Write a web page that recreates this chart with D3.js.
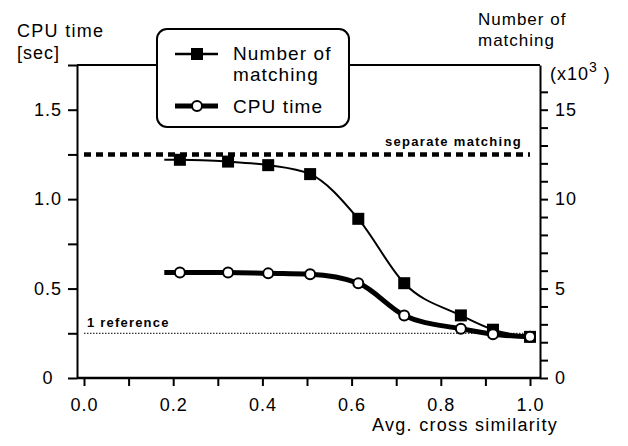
<!DOCTYPE html>
<html lang='en'>
<head>
  <meta charset='UTF-8'>
  <title>CPU time vs similarity</title>
  <script src='https://d3js.org/d3.v7.min.js'></script>
  <style>
    body { margin: 0; background: #fff; }
    svg { display: block; font-family: 'Liberation Sans', Arial, sans-serif; }
    .tick line, .domain { stroke: #000; stroke-width: 2; }
  </style>
</head>
<body>
  <svg width='628' height='446'></svg>

  <script>
    // values
    var similarity = [0.215, 0.323, 0.413, 0.507, 0.615, 0.718, 0.845, 0.917, 1.0];
    var matching = [12.2, 12.1, 11.9, 11.4, 8.9, 5.3, 3.5, 2.7, 2.3];   // x10^3
    var cpuTime = [0.59, 0.59, 0.585, 0.58, 0.53, 0.35, 0.275, 0.245, 0.23];
    var fitStart = 0.18;          // fitted curves begin a bit left of first point
    var separateMatching = 1.25;  // sec
    var oneReference = 0.25;      // sec
    var xTicks = d3.range(0, 11).map(d => d / 10);
    var xLabels = [0, 0.2, 0.4, 0.6, 0.8, 1.0];
    var leftTicks = d3.range(0, 8).map(d => d * 0.25);
    var leftLabels = {0: '0', 0.5: '0.5', 1: '1.0', 1.5: '1.5'};
    var rightTicks = d3.range(0, 17);
    var rightLabels = [0, 5, 10, 15];

    var svg = d3.select('svg');
    var x = d3.scaleLinear().domain([0, 1]).range([84, 530]);
    var yL = d3.scaleLinear().domain([0, 1.75]).range([378, 65]);
    var yR = d3.scaleLinear().domain([0, 17.5]).range([378, 65]);
    var left = 77, right = 540;

    // frame: top line
    svg.append('line')
      .attr('x1', left).attr('x2', right)
      .attr('y1', yL(1.75)).attr('y2', yL(1.75))
      .attr('stroke', '#000').attr('stroke-width', 2);

    // bottom axis
    var gx = svg.append('g')
      .attr('transform', 'translate(0,' + yL(0) + ')')
      .call(d3.axisBottom(x).tickValues(xTicks).tickSize(8).tickSizeOuter(0).tickPadding(12)
        .tickFormat(d => xLabels.some(v => Math.abs(v - d) < 1e-6) ? d3.format('.1f')(d) : ''));
    gx.select('.domain').remove();
    gx.append('line')
      .attr('x1', left).attr('x2', right)
      .attr('stroke', '#000').attr('stroke-width', 2.5);

    // left axis
    var gl = svg.append('g')
      .attr('transform', 'translate(' + left + ',0)')
      .call(d3.axisLeft(yL).tickValues(leftTicks).tickSize(9).tickSizeOuter(0)
        .tickFormat(d => leftLabels[d] || ''));
    gl.select('.domain').attr('stroke-width', 2.5);
    gl.selectAll('text').attr('x', -29).attr('text-anchor', 'middle');

    // right axis
    var gr = svg.append('g')
      .attr('transform', 'translate(' + right + ',0)')
      .call(d3.axisRight(yR).tickValues(rightTicks).tickSize(8).tickSizeOuter(0).tickPadding(7)
        .tickFormat(d => rightLabels.indexOf(d) >= 0 ? d : ''));
    gr.select('.domain').attr('stroke-width', 2.5);

    svg.selectAll('.tick text')
      .attr('fill', '#000')
      .style('font-size', '18px')
      .style('letter-spacing', '1px');

    // reference lines
    svg.append('line')
      .attr('x1', x(0)).attr('x2', x(1))
      .attr('y1', yL(separateMatching)).attr('y2', yL(separateMatching))
      .attr('stroke', '#000').attr('stroke-width', 4.5)
      .attr('stroke-dasharray', '7,5');
    svg.append('line')
      .attr('x1', x(0)).attr('x2', x(1))
      .attr('y1', yL(oneReference)).attr('y2', yL(oneReference))
      .attr('stroke', '#000').attr('stroke-width', 1)
      .attr('stroke-dasharray', '1.5,1.5');

    svg.append('text')
      .attr('x', 385).attr('y', 146)
      .style('font-size', '13px').style('font-weight', 'bold').style('letter-spacing', '1.3px')
      .text('separate matching');
    svg.append('text')
      .attr('x', 87).attr('y', 327)
      .style('font-size', '13px').style('font-weight', 'bold').style('letter-spacing', '1.2px')
      .text('1 reference');

    // curves
    var matchPts = similarity.map((s, i) => ({x: s, y: matching[i]}));
    var cpuPts = similarity.map((s, i) => ({x: s, y: cpuTime[i]}));

    var lineR = d3.line().x(d => x(d.x)).y(d => yR(d.y)).curve(d3.curveMonotoneX);
    var lineL = d3.line().x(d => x(d.x)).y(d => yL(d.y)).curve(d3.curveMonotoneX);

    svg.append('path')
      .datum([{x: fitStart, y: matching[0]}].concat(matchPts))
      .attr('fill', 'none').attr('stroke', '#000').attr('stroke-width', 2)
      .attr('d', lineR);
    svg.append('path')
      .datum([{x: fitStart, y: cpuTime[0]}].concat(cpuPts))
      .attr('fill', 'none').attr('stroke', '#000').attr('stroke-width', 5)
      .attr('stroke-linejoin', 'round')
      .attr('d', lineL);

    svg.selectAll('rect.sq').data(matchPts)
     .enter().append('rect')
      .attr('class', 'sq')
      .attr('x', d => x(d.x) - 6).attr('y', d => yR(d.y) - 6)
      .attr('width', 12).attr('height', 12)
      .attr('fill', '#000');
    svg.selectAll('circle.pt').data(cpuPts)
     .enter().append('circle')
      .attr('class', 'pt')
      .attr('cx', d => x(d.x)).attr('cy', d => yL(d.y))
      .attr('r', 5)
      .attr('fill', '#fff').attr('stroke', '#000').attr('stroke-width', 2);

    // axis titles
    var title = (t, tx, ty, fs, ls) => svg.append('text')
      .attr('x', tx).attr('y', ty)
      .style('font-size', (fs || 18) + 'px').style('letter-spacing', (ls || 1) + 'px')
      .text(t);
    title('CPU time', 17, 37, 18, 1.3);
    title('[sec]', 17, 59);
    title('Number of', 478, 25, 17, 1);
    title('matching', 478, 46, 17, 1);
    var xt = title('(x10', 550, 80);
    xt.append('tspan').attr('dy', -8).style('font-size', '14px').text('3');
    xt.append('tspan').attr('dy', 8).text(' )');
    title('Avg. cross similarity', 372, 431, 18, 1.3);

    // legend
    var lg = svg.append('g');
    lg.append('rect')
      .attr('x', 157).attr('y', 29).attr('width', 192).attr('height', 98)
      .attr('rx', 10)
      .attr('fill', '#fff').attr('stroke', '#000').attr('stroke-width', 2);
    lg.append('line').attr('x1', 175).attr('x2', 218).attr('y1', 54).attr('y2', 54)
      .attr('stroke', '#000').attr('stroke-width', 2.5);
    lg.append('rect').attr('x', 191).attr('y', 48).attr('width', 12).attr('height', 12);
    lg.append('line').attr('x1', 175).attr('x2', 218).attr('y1', 106).attr('y2', 106)
      .attr('stroke', '#000').attr('stroke-width', 5);
    lg.append('circle').attr('cx', 197).attr('cy', 106).attr('r', 5)
      .attr('fill', '#fff').attr('stroke', '#000').attr('stroke-width', 2);
    [['Number of', 60], ['matching', 81], ['CPU time', 113]].forEach(d => {
      lg.append('text')
        .attr('x', 233).attr('y', d[1])
        .style('font-size', '19px').style('letter-spacing', '1.1px')
        .text(d[0]);
    });
  </script>
</body>
</html>
